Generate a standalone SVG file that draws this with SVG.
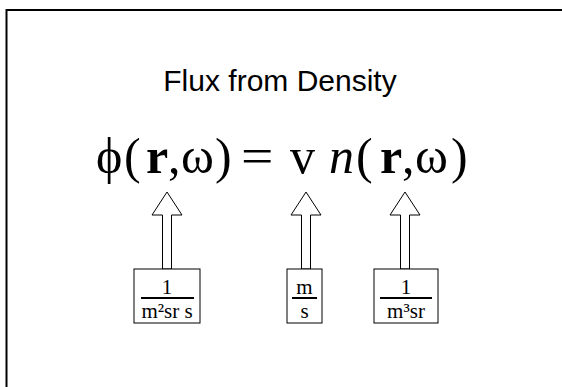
<svg xmlns="http://www.w3.org/2000/svg" width="562" height="387" viewBox="0 0 562 387">
<style>
.frame{fill:none;stroke:#000;stroke-width:2}
.title{font-family:"Liberation Sans",Arial,sans-serif;font-size:30px;fill:#000}
.eq{font-family:"Liberation Serif","Times New Roman",serif;font-size:50px;fill:#000}
.b{font-weight:bold}
.i{font-style:italic}
.arrow{fill:#fff;stroke:#000;stroke-width:1}
.box{fill:#fff;stroke:#000;stroke-width:1}
.frac{font-family:"Liberation Serif","Times New Roman",serif;font-size:21px;fill:#000;text-anchor:middle}
.bar{stroke:#000;stroke-width:2}
</style>
<rect width="562" height="387" fill="#fff"/>
<rect class="frame" x="6.5" y="10" width="600" height="420"/>
<g id="title"><text class="title" x="280" y="91" text-anchor="middle">Flux from Density</text></g>
<g id="equation" class="eq">
<text x="96" y="173">ϕ</text>
<text x="124" y="173">(</text>
<text x="146" y="173" class="b">r</text>
<text x="168" y="173">,</text>
<text x="181" y="173">ω</text>
<text x="215" y="173">)</text>
<text transform="translate(241,173) scale(1.15,1)" x="0" y="0">=</text>
<text x="290" y="173">v</text>
<text x="329" y="173" class="i">n</text>
<text x="356" y="173">(</text>
<text x="380" y="173" class="b">r</text>
<text x="402" y="173">,</text>
<text x="415" y="173">ω</text>
<text x="451" y="173">)</text>
</g>
<g id="connectors">
<polygon class="arrow" points="167,192 182,215 171.5,215 171.5,269 162.5,269 162.5,215 152,215"/>
<polygon class="arrow" points="306,192 321,215 310.5,215 310.5,269 301.5,269 301.5,215 291,215"/>
<polygon class="arrow" points="405,192 420,215 409.5,215 409.5,269 400.5,269 400.5,215 390,215"/>
</g>
<g id="unit-flux">
<rect class="box" x="134" y="269" width="66" height="54"/>
<text class="frac" x="167" y="294">1</text>
<line class="bar" x1="141" y1="298" x2="194" y2="298"/>
<text class="frac" x="167" y="318">m²sr s</text>
</g>
<g id="unit-speed">
<rect class="box" x="287" y="269" width="35" height="54"/>
<text class="frac" x="304.5" y="294">m</text>
<line class="bar" x1="292" y1="298" x2="317" y2="298"/>
<text class="frac" x="304.5" y="318">s</text>
</g>
<g id="unit-density">
<rect class="box" x="374" y="269" width="64" height="54"/>
<text class="frac" x="406" y="294">1</text>
<line class="bar" x1="380" y1="298" x2="432" y2="298"/>
<text class="frac" x="406" y="318">m³sr</text>
</g>
</svg>
